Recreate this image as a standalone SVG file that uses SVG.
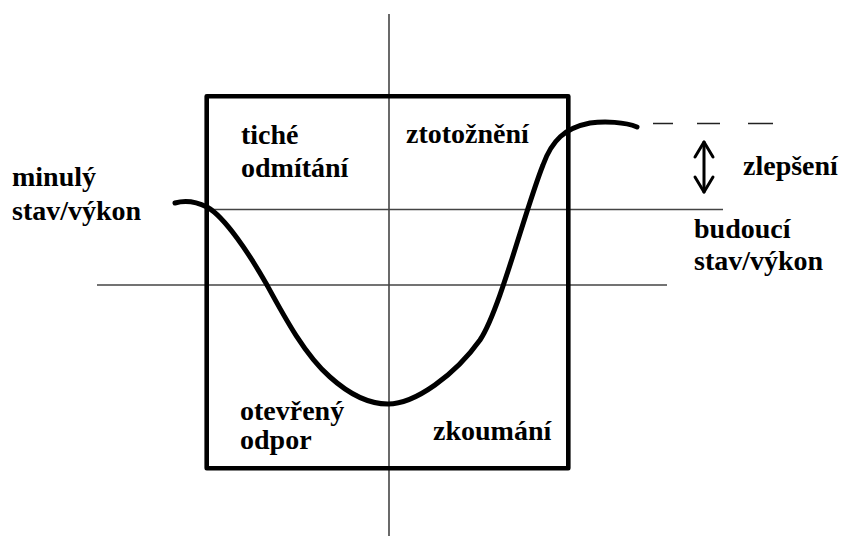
<svg xmlns="http://www.w3.org/2000/svg" width="841" height="536" viewBox="0 0 841 536">
<defs>
<style>
.thin{stroke:#444;stroke-width:1.6;fill:none}
.curve{stroke:#000;stroke-width:5;fill:none;stroke-linecap:round;stroke-linejoin:round}
</style>
</defs>
<rect width="841" height="536" fill="#fff"/>
<g id="axes">
<line class="thin" x1="389" y1="14" x2="389" y2="536"/>
<line class="thin" x1="207" y1="209.5" x2="723" y2="209.5"/>
<line class="thin" x1="97" y1="285" x2="667" y2="285"/>
</g>
<g id="box">
<rect x="206.7" y="96.3" width="361.6" height="372" fill="none" stroke="#000" stroke-width="4.6" stroke-linejoin="round"/>
</g>
<g id="connectors">
<path class="curve" d="M175,203 C185,200 195,201 207,207 C225,217 250,255 267,285 C285,318 305,355 330,377 C350,395 370,404 388,404 C415,404 455,375 480,340 C500,310 525,210 543,165 C552,140 565,128 590,123 C605,121 625,122 637,127"/>
<path d="M653,123.5 H673 M697,123.5 H720 M748,123.5 H773" stroke="#222" stroke-width="1.6" fill="none"/>
<g id="arrow" stroke="#000" stroke-width="3" fill="none" stroke-linecap="round" stroke-linejoin="round">
<line x1="704" y1="142" x2="704" y2="192"/>
<polyline points="695,157 704,142 713,157"/>
<polyline points="695,177 704,192 713,177"/>
</g>
</g>
<g id="tiche"><text x="241" y="144" style="font-family:'Liberation Serif',serif;font-weight:bold;font-size:28px">tiché</text><text x="241" y="177" style="font-family:'Liberation Serif',serif;font-weight:bold;font-size:28px">odmítání</text></g>
<g id="ztotozneni"><text x="406" y="143" style="font-family:'Liberation Serif',serif;font-weight:bold;font-size:28px">ztotožnění</text></g>
<g id="minuly"><text x="12" y="186" style="font-family:'Liberation Serif',serif;font-weight:bold;font-size:28px">minulý</text><text x="12" y="220" style="font-family:'Liberation Serif',serif;font-weight:bold;font-size:28px">stav/výkon</text></g>
<g id="zlepseni"><text x="743" y="175" style="font-family:'Liberation Serif',serif;font-weight:bold;font-size:28px">zlepšení</text></g>
<g id="budouci"><text x="694" y="238" style="font-family:'Liberation Serif',serif;font-weight:bold;font-size:28px">budoucí</text><text x="694" y="270" style="font-family:'Liberation Serif',serif;font-weight:bold;font-size:28px">stav/výkon</text></g>
<g id="otevreny"><text x="240" y="420" style="font-family:'Liberation Serif',serif;font-weight:bold;font-size:28px">otevřený</text><text x="240" y="449" style="font-family:'Liberation Serif',serif;font-weight:bold;font-size:28px">odpor</text></g>
<g id="zkoumani"><text x="433" y="440" style="font-family:'Liberation Serif',serif;font-weight:bold;font-size:28px">zkoumání</text></g>
</svg>
